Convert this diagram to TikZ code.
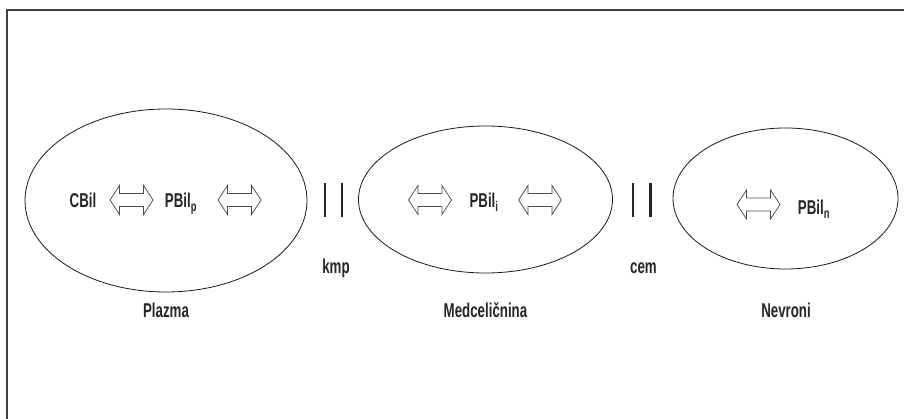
\documentclass[tikz,border=0pt]{standalone}
\usepackage{fontspec}
\setmainfont{Liberation Sans}[FakeStretch=0.665,UprightFont=*-Bold]
\usetikzlibrary{shapes.geometric}
\begin{document}
\begin{tikzpicture}[x=1pt,y=-1pt,
  lbl/.style={inner sep=0pt,font=\fontsize{20}{22}\selectfont,text=black!85},
  oval/.style={draw=black!90,line width=0.8pt},
  bar/.style={draw=black!85,line width=2.4pt},
  frame/.style={draw=black!75,line width=2pt},
  dblarrow/.style={draw=black!70,line width=0.75pt,fill=white}]
\useasboundingbox (0,0) rectangle (904,419);
\fill[white] (0,0) rectangle (904,419);
% frame (top and left sides)
\coordinate (fbl) at (7,419);
\coordinate (ftl) at (7,10);
\coordinate (ftr) at (904,10);
\draw[frame] (fbl) -- (ftl) -- (ftr);
% ellipses
\node[oval,ellipse,minimum width=282pt,minimum height=183pt,inner sep=0pt] (plazma) at (166,200.5) {};
\node[oval,ellipse,minimum width=254pt,minimum height=147pt,inner sep=0pt] (medc) at (485.5,199.5) {};
\node[oval,ellipse,minimum width=225pt,minimum height=141pt,inner sep=0pt] (nevr) at (785.5,198.5) {};
% double arrows: pic
\tikzset{dbl/.pic={
  \draw[dblarrow] (-21.5,0) -- (-12,-14.5) -- (-12,-6.5) -- (12,-6.5) -- (12,-14.5) -- (21.5,0)
     -- (12,14.5) -- (12,6.5) -- (-12,6.5) -- (-12,14.5) -- cycle;}}
\pic (a1) at (131.5,200) {dbl};
\pic (a2) at (239.5,200) {dbl};
\pic (a3) at (430,200) {dbl};
\pic (a4) at (540,200) {dbl};
\pic (a5) at (758.5,204.5) {dbl};
% bars
\coordinate (b1t) at (325,183); \coordinate (b1b) at (325,217);
\coordinate (b2t) at (342,183); \coordinate (b2b) at (342,217);
\coordinate (b3t) at (633,183); \coordinate (b3b) at (633,217);
\coordinate (b4t) at (650.5,183); \coordinate (b4b) at (650.5,217);
\draw[bar] (b1t) -- (b1b);
\draw[bar] (b2t) -- (b2b);
\draw[bar] (b3t) -- (b3b);
\draw[bar] (b4t) -- (b4b);
% labels
\node[lbl,anchor=base] (cbil) at (83,208) {CBil};
\node[lbl,anchor=base] (pbilp) at (181,208) {PBil\textsubscript{p}};
\node[lbl,anchor=base] (pbili) at (484,208) {PBil\textsubscript{i}};
\node[lbl,anchor=base] (pbiln) at (814,215) {PBil\textsubscript{n}};
\node[lbl,anchor=base] (kmp) at (336,274) {kmp};
\node[lbl,anchor=base] (cem) at (643.5,274) {cem};
\node[lbl,anchor=base] (lplaz) at (166,317) {Plazma};
\node[lbl,anchor=base] (lmedc) at (485.5,317) {Medceličnina};
\node[lbl,anchor=base] (lnevr) at (786,317) {Nevroni};
\end{tikzpicture}
\end{document}
